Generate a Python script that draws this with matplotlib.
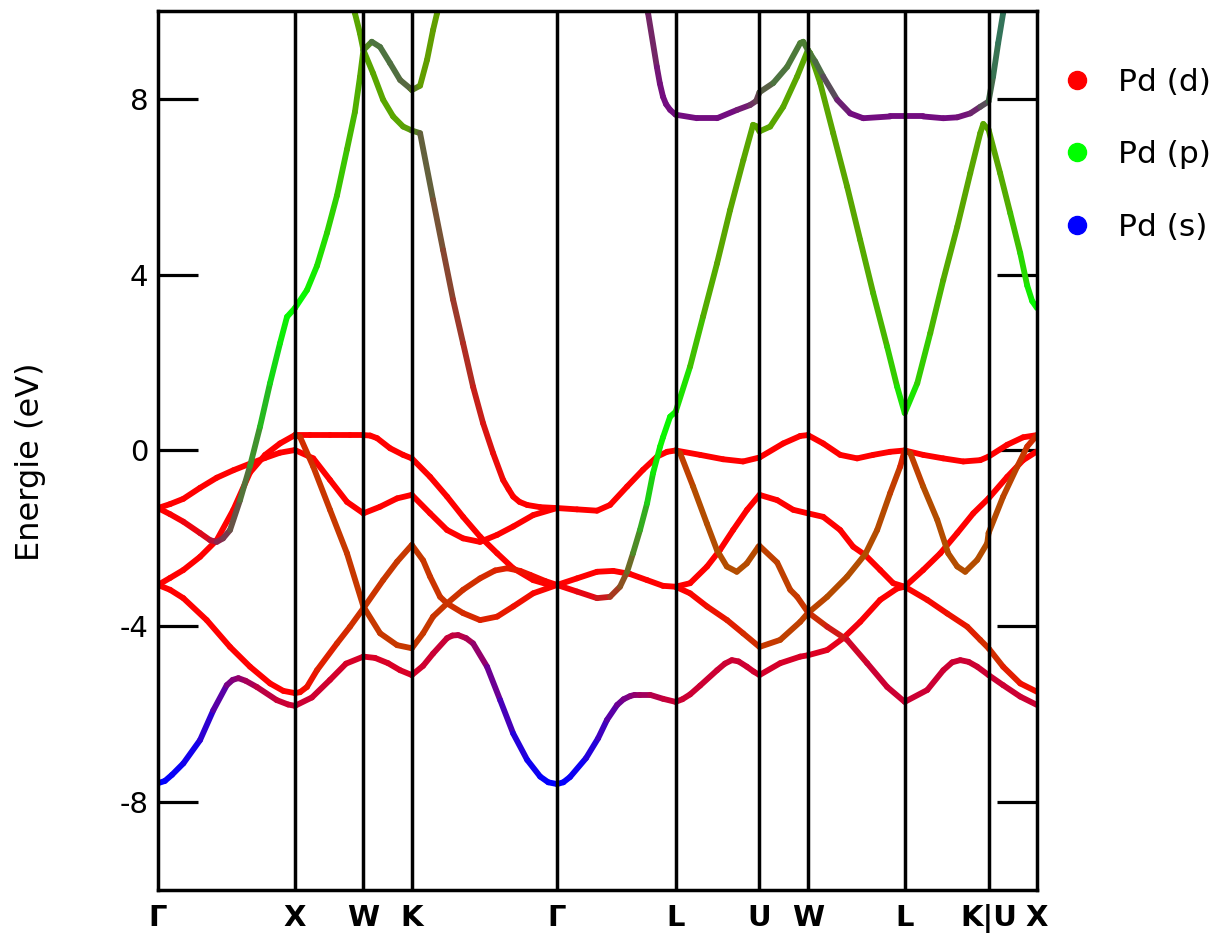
import numpy as np
import matplotlib
matplotlib.use('Agg')
import matplotlib.pyplot as plt
from matplotlib.collections import LineCollection
from matplotlib.lines import Line2D

plt.rcParams['axes.unicode_minus'] = False

# high symmetry points along the fcc path (2pi/a units)
kpt_pos = [0.0, 1.0, 1.5, 1.8536, 2.9142, 3.7802, 4.3926, 4.7462, 5.4533, 6.0657, 6.4193]
kpt_labels = ['Γ', 'X', 'W', 'K', 'Γ', 'L', 'U', 'W', 'L', 'K|U', 'X']

# band A : s-like bottom band, Γ-X-W-K-Γ-L-U-W-L-K-X
a_k = [0, 0.05, 0.102, 0.185, 0.307, 0.404, 0.502, 0.545, 0.587, 0.64, 0.721, 0.867, 0.95, 1.0,
       1.124, 1.256, 1.373, 1.5, 1.585, 1.680, 1.768, 1.8536,
       1.936, 2.009, 2.111, 2.15, 2.192, 2.25, 2.301, 2.403, 2.499, 2.594, 2.696, 2.791, 2.85, 2.9142,
       2.96, 3.009, 3.126, 3.214, 3.279, 3.353, 3.40, 3.447, 3.48, 3.520, 3.594, 3.688, 3.7802,
       3.83, 3.886, 3.959, 4.083, 4.14, 4.191, 4.24, 4.301, 4.35, 4.3926, 4.544, 4.690, 4.7462,
       4.887, 5.004, 5.128, 5.274, 5.398, 5.4533,
       5.588, 5.713, 5.837, 5.954, 6.0657, 6.202, 6.318, 6.4193]
a_e = [-7.57, -7.52, -7.38, -7.12, -6.59, -5.91, -5.34, -5.22, -5.18, -5.24, -5.38, -5.68, -5.78, -5.81,
       -5.62, -5.22, -4.85, -4.69, -4.72, -4.84, -5.0, -5.11,
       -4.9, -4.62, -4.27, -4.21, -4.2, -4.27, -4.39, -4.92, -5.68, -6.44, -7.04, -7.42, -7.55, -7.59,
       -7.55, -7.43, -7.0, -6.55, -6.13, -5.79, -5.66, -5.59, -5.56, -5.56, -5.56, -5.65, -5.72,
       -5.66, -5.55, -5.35, -5.0, -4.85, -4.77, -4.8, -4.92, -5.03, -5.11, -4.84, -4.69, -4.66,
       -4.54, -4.27, -3.9, -3.4, -3.14, -3.1,
       -2.72, -2.34, -1.88, -1.43, -1.09, -0.6, -0.22, -0.02]
a_s = [1.0, 1.0, 0.98, 0.95, 0.9, 0.75, 0.55, 0.5, 0.45, 0.38, 0.3, 0.22, 0.2, 0.2,
       0.2, 0.18, 0.16, 0.15, 0.15, 0.15, 0.15, 0.15,
       0.18, 0.2, 0.22, 0.23, 0.25, 0.3, 0.35, 0.5, 0.65, 0.8, 0.92, 0.97, 0.99, 1.0,
       0.99, 0.98, 0.92, 0.8, 0.7, 0.6, 0.55, 0.5, 0.45, 0.4, 0.33, 0.25, 0.2,
       0.2, 0.2, 0.2, 0.2, 0.2, 0.2, 0.2, 0.19, 0.18, 0.18, 0.16, 0.15, 0.15,
       0.12, 0.08, 0.03, 0, 0, 0,
       0, 0, 0, 0, 0, 0, 0, 0]

# band B
b_k = [0, 0.088, 0.185, 0.356, 0.526, 0.672, 0.818, 0.915, 1.0,
       1.037, 1.088, 1.161, 1.307, 1.402, 1.5, 1.644, 1.746, 1.8536,
       1.936, 1.987, 2.060, 2.111, 2.228, 2.352, 2.477, 2.594, 2.740, 2.9142]
b_e = [-3.06, -3.17, -3.36, -3.86, -4.47, -4.92, -5.3, -5.47, -5.52,
       -5.5, -5.38, -5.0, -4.39, -4.01, -3.59, -2.95, -2.53, -2.15,
       -2.5, -2.87, -3.33, -3.48, -3.7, -3.86, -3.78, -3.55, -3.25, -3.06]
b_p = [0, 0, 0, 0, 0, 0, 0, 0, 0,
       0.02, 0.05, 0.1, 0.15, 0.18, 0.2, 0.21, 0.22, 0.22,
       0.22, 0.21, 0.2, 0.2, 0.18, 0.15, 0.12, 0.08, 0.04, 0]

# band C
c_k = [0, 0.088, 0.185, 0.307, 0.429, 0.550, 0.672, 0.782, 0.891, 1.0,
       1.110, 1.256, 1.402, 1.5, 1.549, 1.600, 1.695, 1.790, 1.8536,
       1.987, 2.111, 2.228, 2.352, 2.477, 2.594, 2.740, 2.827, 2.9142]
c_e = [-3.06, -2.9, -2.72, -2.42, -2.04, -1.35, -0.5, -0.1, 0.16, 0.35,
       0.35, 0.35, 0.35, 0.35, 0.34, 0.28, 0.05, -0.1, -0.18,
       -0.6, -1.05, -1.51, -1.96, -2.34, -2.68, -2.95, -3.03, -3.06]

# band D
d_k = [0, 0.088, 0.185, 0.307, 0.429, 0.550, 0.672, 0.782, 0.891, 1.0,
       1.134, 1.256, 1.380, 1.5, 1.622, 1.746, 1.8536,
       1.987, 2.111, 2.228, 2.352, 2.477, 2.594, 2.740, 2.9142]
d_e = [-1.31, -1.22, -1.1, -0.85, -0.62, -0.45, -0.3, -0.17, -0.05, 0.01,
       -0.18, -0.67, -1.17, -1.43, -1.28, -1.09, -1.01,
       -1.43, -1.81, -2.0, -2.08, -1.92, -1.73, -1.47, -1.31]

# band E : Γ12 branch turning into the p band
e_k = [0, 0.088, 0.185, 0.307, 0.380, 0.429, 0.475, 0.526, 0.599, 0.672, 0.745,
       0.818, 0.891, 0.942, 1.0,
       1.088, 1.161, 1.234, 1.307, 1.380, 1.438, 1.475, 1.5,
       1.561, 1.622, 1.695, 1.768, 1.841, 1.8536,
       1.914, 1.965, 2.009, 2.038, 2.060]
e_e = [-1.31, -1.45, -1.62, -1.88, -2.04, -2.08, -2.0, -1.81, -1.13, -0.35, 0.54,
       1.53, 2.44, 3.04, 3.24,
       3.65, 4.2, 4.95, 5.8, 6.85, 7.7, 8.5, 9.11,
       9.3, 9.18, 8.81, 8.43, 8.24, 8.2,
       8.3, 8.89, 9.57, 9.95, 10.3]
e_p = [0, 0, 0, 0.02, 0.05, 0.1, 0.2, 0.25, 0.4, 0.5, 0.65,
       0.8, 0.9, 0.95, 1.0,
       0.95, 0.9, 0.85, 0.8, 0.75, 0.7, 0.67, 0.65,
       0.45, 0.45, 0.45, 0.42, 0.4, 0.4,
       0.62, 0.62, 0.62, 0.62, 0.62]
e_s = [0, 0, 0.03, 0.08, 0.15, 0.3, 0.3, 0.3, 0.25, 0.2, 0.15,
       0.1, 0.05, 0, 0,
       0, 0, 0, 0, 0, 0, 0, 0,
       0.25, 0.25, 0.25, 0.25, 0.25, 0.25,
       0, 0, 0, 0, 0]

# band F : steep band X -> W -> K -> Γ
f_k = [1.0, 1.037, 1.134, 1.256, 1.380, 1.5, 1.622, 1.746, 1.8536,
       1.936, 2.009, 2.111, 2.228, 2.352, 2.462, 2.550, 2.645, 2.718, 2.827, 2.9142]
f_e = [0.35, 0.31, -0.37, -1.35, -2.34, -3.55, -4.16, -4.43, -4.5,
       -4.16, -3.78, -3.48, -3.17, -2.91, -2.73, -2.68, -2.74, -2.83, -2.97, -3.06]
f_p = [0.1, 0.15, 0.2, 0.22, 0.22, 0.22, 0.22, 0.22, 0.22,
       0.22, 0.22, 0.2, 0.2, 0.18, 0.15, 0.12, 0.08, 0.05, 0.02, 0]

# band T : comes down from the top at W, K -> Γ
t_k = [1.424, 1.438, 1.475, 1.5, 1.571, 1.644, 1.717, 1.790, 1.8536,
       1.914, 2.009, 2.082, 2.155, 2.228, 2.301, 2.374, 2.447, 2.520, 2.56, 2.594,
       2.64, 2.696, 2.791, 2.9142]
t_e = [10.15, 9.95, 9.49, 9.11, 8.58, 7.98, 7.6, 7.37, 7.28,
       7.22, 5.7, 4.56, 3.43, 2.44, 1.45, 0.62, -0.06, -0.67, -0.88, -1.05,
       -1.17, -1.24, -1.29, -1.31]
t_p = [0.65, 0.65, 0.65, 0.65, 0.65, 0.65, 0.65, 0.65, 0.6,
       0.4, 0.35, 0.3, 0.25, 0.2, 0.15, 0.1, 0.06, 0.03, 0.01, 0,
       0, 0, 0, 0]
t_s = [0, 0, 0, 0, 0, 0, 0, 0, 0.05,
       0.25, 0.22, 0.2, 0.18, 0.15, 0.12, 0.08, 0.05, 0.02, 0.01, 0,
       0, 0, 0, 0]

# band L1 : upper d band Γ -> L -> U -> W -> L -> K -> X
l_k = [2.9142, 3.060, 3.206, 3.301, 3.426, 3.542, 3.645, 3.718, 3.7802,
       3.959, 4.127, 4.273, 4.3926, 4.566, 4.690, 4.7462,
       4.858, 4.982, 5.106, 5.223, 5.347, 5.4533,
       5.588, 5.735, 5.881, 6.005, 6.0657, 6.202, 6.318, 6.4193]
l_e = [-1.31, -1.34, -1.37, -1.24, -0.82, -0.44, -0.14, -0.03, 0.0,
       -0.1, -0.2, -0.25, -0.16, 0.16, 0.33, 0.35,
       0.16, -0.1, -0.18, -0.1, -0.03, 0.0,
       -0.1, -0.18, -0.25, -0.22, -0.14, 0.13, 0.3, 0.35]

# band M : Λ1 branch turning into the p band, L -> U -> W -> L -> K -> X
m_k = [2.9142, 3.060, 3.206, 3.301, 3.374, 3.426, 3.469, 3.520, 3.572, 3.615,
       3.667, 3.688, 3.740, 3.7802,
       3.886, 3.981, 4.083, 4.178, 4.275, 4.346, 4.368, 4.3926,
       4.471, 4.566, 4.668, 4.7462,
       4.763, 4.836, 4.931, 5.033, 5.128, 5.223, 5.325, 5.398, 5.4533,
       5.545, 5.640, 5.735, 5.837, 5.932, 6.005, 6.027, 6.0657,
       6.150, 6.224, 6.297, 6.348, 6.384, 6.4193]
m_e = [-3.06, -3.21, -3.36, -3.33, -3.1, -2.76, -2.34, -1.81, -1.2, -0.52,
       0.09, 0.3, 0.77, 0.88,
       1.91, 3.05, 4.26, 5.47, 6.61, 7.41, 7.38, 7.26,
       7.37, 7.82, 8.51, 9.11,
       9.04, 8.36, 7.22, 6.0, 4.79, 3.58, 2.36, 1.45, 0.85,
       1.53, 2.67, 3.88, 5.09, 6.31, 7.22, 7.43, 7.3,
       6.31, 5.4, 4.49, 3.75, 3.4, 3.24]
m_p = [0, 0, 0.05, 0.15, 0.3, 0.35, 0.5, 0.6, 0.75, 0.88,
       0.95, 0.96, 0.97, 0.97,
       0.8, 0.7, 0.65, 0.65, 0.65, 0.65, 0.65, 0.65,
       0.65, 0.65, 0.65, 0.65,
       0.65, 0.65, 0.65, 0.65, 0.65, 0.68, 0.75, 0.85, 0.95,
       0.85, 0.75, 0.68, 0.65, 0.65, 0.65, 0.65, 0.65,
       0.65, 0.7, 0.8, 0.9, 0.95, 1.0]
m_s = [0, 0.05, 0.1, 0.12, 0.12, 0.15, 0.15, 0.15, 0.1, 0.05,
       0, 0, 0, 0,
       0, 0, 0, 0, 0, 0, 0, 0,
       0, 0, 0, 0,
       0, 0, 0, 0, 0, 0, 0, 0, 0,
       0, 0, 0, 0, 0, 0, 0, 0,
       0, 0, 0, 0, 0, 0]

# band P : purple band at the top, L -> U -> W -> L -> K
p_k = [3.572, 3.579, 3.643, 3.665, 3.688, 3.71, 3.740, 3.7802,
       3.937, 4.083, 4.230, 4.324, 4.368, 4.3926,
       4.493, 4.595, 4.690, 4.712, 4.7462,
       4.800, 4.858, 4.960, 5.055, 5.150, 5.347, 5.4533,
       5.588, 5.735, 5.837, 5.932, 6.005, 6.0657,
       6.099, 6.136, 6.172, 6.187]
p_e = [10.2, 9.95, 8.73, 8.35, 8.05, 7.88, 7.75, 7.64,
       7.56, 7.56, 7.75, 7.86, 7.95, 8.15,
       8.36, 8.73, 9.27, 9.3, 9.11,
       8.85, 8.51, 7.98, 7.67, 7.56, 7.6, 7.6,
       7.6, 7.56, 7.58, 7.67, 7.82, 7.94,
       8.51, 9.27, 9.95, 10.3]
p_p = [0.2, 0.2, 0.1, 0.07, 0.05, 0.05, 0.05, 0.05,
       0.05, 0.05, 0.05, 0.15, 0.25, 0.3,
       0.45, 0.45, 0.5, 0.5, 0.5,
       0.45, 0.4, 0.2, 0.05, 0.05, 0.05, 0.05,
       0.05, 0.05, 0.05, 0.1, 0.2, 0.4,
       0.45, 0.45, 0.45, 0.45]
p_s = [0.35, 0.35, 0.45, 0.48, 0.5, 0.5, 0.5, 0.5,
       0.5, 0.5, 0.5, 0.4, 0.35, 0.3,
       0.25, 0.25, 0.2, 0.2, 0.2,
       0.25, 0.3, 0.4, 0.5, 0.5, 0.5, 0.5,
       0.5, 0.5, 0.5, 0.45, 0.4, 0.3,
       0.3, 0.35, 0.35, 0.35]

# band Q : Λ3 lower branch, then L -> U -> W -> L -> K -> X
q_k = [2.9142, 3.060, 3.206, 3.325, 3.447, 3.572, 3.688, 3.7802,
       3.886, 4.010, 4.105, 4.200, 4.302, 4.3926,
       4.522, 4.639, 4.7462,
       4.858, 4.982, 5.077, 5.165, 5.274, 5.369, 5.4533,
       5.618, 5.764, 5.910, 6.005, 6.0657, 6.172, 6.297, 6.4193]
q_e = [-3.06, -2.91, -2.76, -2.74, -2.81, -2.95, -3.08, -3.1,
       -3.02, -2.64, -2.26, -1.81, -1.35, -1.01,
       -1.13, -1.35, -1.43,
       -1.51, -1.81, -2.19, -2.38, -2.72, -3.02, -3.1,
       -3.4, -3.71, -4.01, -4.31, -4.5, -4.92, -5.3, -5.49]
q_p = [0, 0, 0, 0, 0, 0, 0, 0,
       0, 0, 0, 0, 0, 0,
       0, 0, 0,
       0, 0, 0, 0, 0, 0, 0,
       0.02, 0.05, 0.1, 0.15, 0.2, 0.15, 0.08, 0.03]

# band R : L -> U -> W -> L -> K -> X
r_k = [3.7802, 3.886, 4.010, 4.156, 4.273, 4.3926,
       4.544, 4.690, 4.7462,
       4.887, 5.033, 5.165, 5.252, 5.347, 5.420, 5.4533,
       5.494, 5.588, 5.691, 5.771, 5.837, 5.895, 5.983, 6.056, 6.0657,
       6.172, 6.275, 6.348, 6.4193]
r_e = [-3.1, -3.25, -3.55, -3.86, -4.16, -4.47,
       -4.31, -3.9, -3.7,
       -3.33, -2.87, -2.36, -1.81, -0.97, -0.37, 0.0,
       -0.06, -0.82, -1.58, -2.34, -2.64, -2.76, -2.49, -2.11, -1.88,
       -1.05, -0.37, 0.09, 0.35]
r_p = [0, 0, 0.05, 0.1, 0.15, 0.2,
       0.25, 0.25, 0.25,
       0.28, 0.3, 0.3, 0.3, 0.28, 0.2, 0.1,
       0.2, 0.3, 0.3, 0.3, 0.3, 0.3, 0.3, 0.3, 0.3,
       0.28, 0.25, 0.2, 0.15]

# band H : L -> U -> W -> L -> K -> X
h_k = [3.7802, 3.813, 3.908, 4.008, 4.081, 4.154, 4.227, 4.300, 4.385, 4.3926,
       4.522, 4.617, 4.668, 4.7462,
       4.887, 5.033, 5.179, 5.325, 5.4533,
       5.618, 5.735, 5.80, 5.859, 5.92, 5.983, 6.0657, 6.172, 6.297, 6.4193]
h_e = [0.0, -0.06, -0.82, -1.66, -2.26, -2.64, -2.76, -2.57, -2.19, -2.17,
       -2.55, -3.17, -3.33, -3.68,
       -4.01, -4.31, -4.84, -5.38, -5.72,
       -5.45, -5.0, -4.82, -4.77, -4.81, -4.92, -5.11, -5.34, -5.6, -5.79]
h_p = [0.1, 0.2, 0.3, 0.3, 0.3, 0.3, 0.3, 0.3, 0.28, 0.25,
       0.25, 0.25, 0.22, 0.2,
       0.15, 0.05, 0, 0, 0,
       0, 0, 0, 0, 0, 0, 0, 0, 0, 0]
h_s = [0, 0, 0, 0, 0, 0, 0, 0, 0, 0,
       0, 0, 0, 0,
       0.05, 0.12, 0.2, 0.2, 0.2,
       0.2, 0.2, 0.2, 0.2, 0.2, 0.2, 0.2, 0.2, 0.2, 0.2]

legend_labels = ['Pd (d)', 'Pd (p)', 'Pd (s)']
legend_colors = ['#ff0000', '#00ff00', '#0000ff']


def draw_band(ax, k, e, p=None, s=None):
    k = np.asarray(k, dtype=float)
    e = np.asarray(e, dtype=float)
    p = np.zeros_like(k) if p is None else np.asarray(p, dtype=float)
    s = np.zeros_like(k) if s is None else np.asarray(s, dtype=float)
    rgb = np.clip(np.column_stack([1 - p - s, p, s]), 0, 1)
    pts = np.column_stack([k, e])
    segs = np.stack([pts[:-1], pts[1:]], axis=1)
    cols = (rgb[:-1] + rgb[1:]) / 2
    lc = LineCollection(segs, colors=cols, linewidths=4.2, capstyle='round', zorder=2)
    ax.add_collection(lc)


fig = plt.figure(figsize=(12.23, 9.38), dpi=100)
ax = fig.add_axes([0.1292, 0.0512, 0.7187, 0.9371])

draw_band(ax, a_k, a_e, s=a_s)
draw_band(ax, b_k, b_e, p=b_p)
draw_band(ax, c_k, c_e)
draw_band(ax, d_k, d_e)
draw_band(ax, f_k, f_e, p=f_p)
draw_band(ax, l_k, l_e)
draw_band(ax, q_k, q_e, p=q_p)
draw_band(ax, r_k, r_e, p=r_p)
draw_band(ax, h_k, h_e, p=h_p, s=h_s)
draw_band(ax, t_k, t_e, p=t_p, s=t_s)
draw_band(ax, e_k, e_e, p=e_p, s=e_s)
draw_band(ax, m_k, m_e, p=m_p, s=m_s)
draw_band(ax, p_k, p_e, p=p_p, s=p_s)

for x in kpt_pos[1:-1]:
    ax.axvline(x, color='black', lw=2.5, zorder=3)

ax.set_xlim(kpt_pos[0], kpt_pos[-1])
ax.set_ylim(-10, 10)
ax.set_xticks(kpt_pos)
ax.set_xticklabels(kpt_labels, fontsize=21, fontweight='bold')
ax.set_yticks([-8, -4, 0, 4, 8])
ax.set_yticklabels(['-8', '-4', '0', '4', '8'])
ax.tick_params(axis='x', length=0, pad=10)
ax.tick_params(axis='y', direction='in', length=29, width=2.3, labelsize=21,
               pad=7, right=True)
for sp in ax.spines.values():
    sp.set_linewidth(2.5)
    sp.set_zorder(4)

fig.text(0.025, 0.508, 'Energie (eV)', rotation=90, ha='center', va='center', fontsize=23)

handles = [Line2D([], [], ls='', marker='o', markersize=13, color=c) for c in legend_colors]
fig.legend(handles, legend_labels, loc='upper left', bbox_to_anchor=(0.8577, 0.941),
           bbox_transform=fig.transFigure, frameon=False, fontsize=22.5,
           handlelength=1.0, handletextpad=0.81, labelspacing=1.39, borderpad=0.4,
           borderaxespad=0)

fig.savefig('out.png', dpi=100)
